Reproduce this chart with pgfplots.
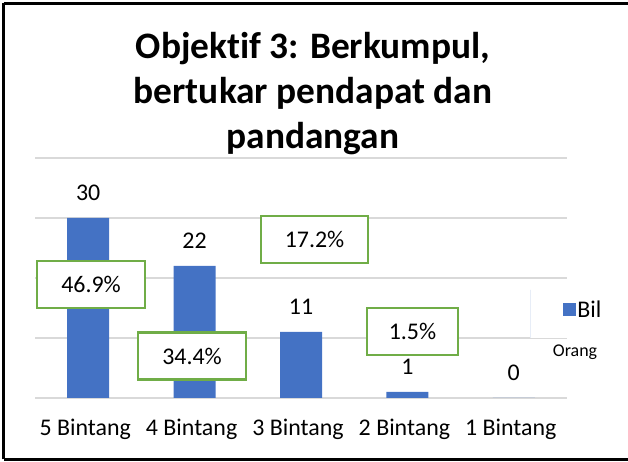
\documentclass[border=0pt]{standalone}
\usepackage{pgfplots}
\pgfplotsset{compat=1.18}
\usepackage{fontspec}
\setmainfont{Carlito}[Ligatures={NoCommon}]
\definecolor{barblue}{HTML}{4472C4}
\definecolor{boxgreen}{HTML}{70AD47}
\definecolor{gridgray}{HTML}{D9D9D9}
\begin{document}
\begin{tikzpicture}[x=1bp,y=1bp]
\useasboundingbox (0,0) rectangle (628,462);
% frame
\draw[black, line width=3.2bp] (3.5,458.5) -- (630,458.5);
\draw[black, line width=3.2bp] (3.5,2.5) -- (630,2.5);
\draw[black, line width=3.2bp] (3.5,2.5) -- (3.5,458.5);
% title
\node[font=\fontsize{37.5}{45}\selectfont\bfseries, align=center, anchor=base] at (313,403) {Objektif 3: Berkumpul,};
\node[font=\fontsize{37.5}{45}\selectfont\bfseries, align=center, anchor=base] at (313,358) {bertukar pendapat dan};
\node[font=\fontsize{37.5}{45}\selectfont\bfseries, align=center, anchor=base] at (313,313) {pandangan};
\begin{axis}[
  at={(35bp,64bp)}, anchor=south west,
  scale only axis, width=532bp, height=240bp,
  xmin=-0.5, xmax=4.5, ymin=0, ymax=40,
  clip=false,
  /pgf/number format/assume math mode=true,
  axis line style={draw=none},
  ytick={0,10,20,30,40}, yticklabels={},
  ymajorgrids, grid style={color=gridgray, line width=1.3bp},
  major tick length=0pt,
  xtick={0,1,2,3,4},
  xticklabels={5 Bintang, 4 Bintang, 3 Bintang, 2 Bintang, 1 Bintang},
  xticklabel style={font=\fontsize{24}{29}\selectfont, inner sep=0pt, yshift=-21bp, xshift=-3bp},
  ybar, bar width=42bp,
  nodes near coords,
  every node near coord/.append style={font=\fontsize{24}{29}\selectfont, anchor=south, inner sep=0pt, yshift=17bp, black},
  legend style={at={(axis description cs:0.932,0.35)}, anchor=west, draw=white, line width=0pt, fill=white, inner sep=0pt,
    font=\fontsize{24}{29}\selectfont, nodes={inner sep=1.5bp}},
  legend image code/.code={\path (0bp,-28bp) rectangle (0bp,20bp); \fill[#1,draw=none] (32bp,-6.5bp) rectangle (45bp,6.5bp);},
]
\addplot[fill=barblue, draw=none] coordinates {(0,30) (1,22) (2,11) (3,1) (4,0)};
\addlegendentry{Bil}
\end{axis}
\node[font=\fontsize{18}{22}\selectfont] at (575,110) {Orang};
% percentage text boxes
\tikzset{pbox/.style={draw=boxgreen, line width=2.2bp, fill=white, minimum height=47bp, font=\fontsize{24}{29}\selectfont, inner sep=0pt}}
\node[pbox, minimum width=108bp] at (91,177.5) {46.9\%};
\node[pbox, minimum width=108bp] at (192,106) {34.4\%};
\node[pbox, minimum width=107bp] at (314.5,222.5) {17.2\%};
\node[pbox, minimum width=91bp] at (412.5,130.5) {1.5\%};
\end{tikzpicture}
\end{document}
